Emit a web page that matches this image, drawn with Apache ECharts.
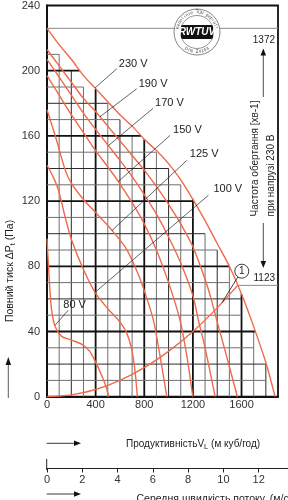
<!DOCTYPE html>
<html><head><meta charset="utf-8">
<script src="https://cdn.jsdelivr.net/npm/echarts@6/dist/echarts.min.js"></script>
<style>html,body{margin:0;padding:0;background:#fff}#c{width:288px;height:500px}</style>
</head><body><div id="c"></div>
<script>
// ---- data ----
const xTicks = [0, 400, 800, 1200, 1600];
const yTicks = [0, 40, 80, 120, 160, 200, 240];
const velTicks = [0, 2, 4, 6, 8, 10, 12];
const curveNames = ['230 V', '190 V', '170 V', '150 V', '125 V', '100 V', '80 V'];
const c230x = [0,100,200,300,400,500,600,700,800,900,1000,1100,1200,1300,1400,1500,1600,1700,1800,1876];
const c230y = [226,216,207,197,189,181,173,166,158,151,143,133,121,108,94,80,63,43,21,0];
const c190x = [0,100,200,300,400,500,600,700,800,900,1000,1100,1200,1300,1350,1400,1480,1566];
const c190y = [213,203,193,183,175,166,157,148,139,129,118,106,92,72,60,46,24,0];
const c170x = [0,100,200,300,400,505,600,700,800,900,1000,1100,1200,1245,1300,1383];
const c170y = [207,196,185,174,164,154,145,135,124,112,98,82,62,47,30,0];
const c150x = [0,100,200,300,400,500,587,700,800,900,1000,1094,1150,1199];
const c150y = [197,185,173,162,151,141,132,119,106,90,70,47,25,0];
const c125x = [0,80,150,200,300,400,535,650,740,800,875,930,985];
const c125y = [176,157,139,131,121,113,102,91,77,65,47,25,0];
const c100x = [0,50,93,150,203,300,395,500,587,650,697,725,743];
const c100y = [142,135,127,110,96,78,64,54,47,40,29,15,0];
const c80x = [0,5,12,20,35,55,80,120,190,290,350,395,450,490,505];
const c80y = [97,90,80,70,55,46,41,37,35,32,28,22,13,5,0];
const sysX = [0,200,400,600,800,1000,1200,1400,1568];
const sysY = [0,1.1,4.4,10,17.8,27.8,40,54.5,68.3];
const rpmTop = 1372, rpmOp = 1123;

const curvesX = [c230x, c190x, c170x, c150x, c125x, c100x, c80x];
const curvesY = [c230y, c190y, c170y, c150y, c125y, c100y, c80y];

// ---- helpers ----
function interp(xs, ys, x) {
  if (x <= xs[0]) return ys[0];
  for (let i = 1; i < xs.length; i++) {
    if (x <= xs[i]) { const t = (x - xs[i-1]) / (xs[i] - xs[i-1]); return ys[i-1] + t * (ys[i] - ys[i-1]); }
  }
  return ys[ys.length - 1];
}
function xAtY(xs, ys, y) {
  if (y >= ys[0]) return xs[0];
  for (let i = 1; i < ys.length; i++) {
    if (y >= ys[i]) { const t = (ys[i-1] - y) / (ys[i-1] - ys[i]); return xs[i-1] + t * (xs[i] - xs[i-1]); }
  }
  return xs[xs.length - 1];
}
const XMAX = 1900;
const gridSegs = [];
for (let X = 100; X <= 1800; X += 100) {
  const o = interp(c230x, c230y, X);
  const thick = X % 400 === 0;
  const top = thick ? o : Math.floor(o / 10) * 10;
  if (top > 0) gridSegs.push([X, 0, X, top, thick ? 2 : (X % 200 === 0 ? 1 : 0)]);
}
for (let Y = 10; Y <= 220; Y += 10) {
  const xr = xAtY(c230x, c230y, Y);
  const thick = Y % 40 === 0;
  const right = thick ? xr : Math.floor(xr / 100) * 100;
  if (right > 0) gridSegs.push([0, Y, right, Y, thick ? 2 : (Y % 20 === 0 ? 1 : 0)]);
}

const FONT = '"Liberation Sans", Arial, sans-serif';
const RED = '#f0694a';
const chart = echarts.init(document.getElementById('c'), null, {renderer: 'canvas'});

const series = [{
  type: 'custom', xAxisIndex: 0, yAxisIndex: 0, silent: true, z: 1,
  dimensions: ['x1','y1','x2','y2','k'],
  encode: {x: [0, 2], y: [1, 3]},
  data: gridSegs,
  renderItem: function (params, api) {
    const p1 = api.coord([api.value(0), api.value(1)]);
    const p2 = api.coord([api.value(2), api.value(3)]);
    const k = api.value(4);
    return {type: 'line', shape: {x1: p1[0], y1: p1[1], x2: p2[0], y2: p2[1]},
      style: {stroke: k === 2 ? '#111' : (k === 1 ? '#2a2a2a' : '#707070'), lineWidth: k === 2 ? 1.8 : 1}};
  }
}];
curvesX.forEach((xs, i) => {
  series.push({type: 'line', name: curveNames[i], xAxisIndex: 0, yAxisIndex: 0, z: 3, silent: true,
    showSymbol: false, smooth: 0.3, lineStyle: {color: RED, width: 1.4},
    data: xs.map((x, j) => [x, curvesY[i][j]])});
});
series.push({type: 'line', name: 'system', xAxisIndex: 0, yAxisIndex: 0, z: 3, silent: true,
  showSymbol: false, smooth: 0.3, lineStyle: {color: RED, width: 1.4},
  data: sysX.map((x, j) => [x, sysY[j]])});
series.push({type: 'line', xAxisIndex: 1, yAxisIndex: 1, data: [], silent: true});

chart.setOption({
  animation: false,
  textStyle: {fontFamily: FONT},
  grid: [
    {left: 47, right: 10, top: 4.5, bottom: 103.3, show: true, borderColor: '#111', borderWidth: 1.8, backgroundColor: 'transparent'},
    {left: 47, right: 0, top: 467.5, height: 1}
  ],
  xAxis: [
    {type: 'value', gridIndex: 0, min: 0, max: XMAX,
      axisLine: {show: true, lineStyle: {color: '#111', width: 2}},
      axisTick: {show: false}, splitLine: {show: false},
      axisLabel: {customValues: xTicks, formatter: v => String(v), color: '#333', fontSize: 11, margin: 3, fontFamily: FONT}},
    {type: 'value', gridIndex: 1, min: 0, max: 13.66, position: 'bottom',
      axisLine: {show: true, onZero: false, lineStyle: {color: '#222', width: 1}},
      axisTick: {show: true, customValues: velTicks, length: 4, lineStyle: {color: '#222'}},
      splitLine: {show: false},
      axisLabel: {customValues: velTicks, formatter: v => String(v), color: '#333', fontSize: 11, margin: 6, fontFamily: FONT}}
  ],
  yAxis: [
    {type: 'value', gridIndex: 0, min: 0, max: 240, interval: 40,
      axisLine: {show: true, lineStyle: {color: '#111', width: 2}},
      axisTick: {show: false}, splitLine: {show: false},
      axisLabel: {customValues: yTicks, formatter: v => String(v), color: '#333', fontSize: 11, margin: 7, fontFamily: FONT}},
    {type: 'value', gridIndex: 1, min: 0, max: 1, show: false}
  ],
  series: series
});

// ---- annotations ----
const P = (x, y) => chart.convertToPixel({gridIndex: 0}, [x, y]);
const g = [];
function line(x1, y1, x2, y2, stroke, w) { g.push({type: 'line', silent: true, z: 10, shape: {x1, y1, x2, y2}, style: {stroke, lineWidth: w}}); }
function text(x, y, t, opt) { g.push(Object.assign({type: 'text', silent: true, z: 11, x, y, style: Object.assign({text: t, fill: '#222', font: '11px ' + FONT, align: 'left', verticalAlign: 'middle'}, opt && opt.style || {})}, opt && opt.el || {})); }

const leaders = [
  [0, 395, [574, 201.2], 2, -5],
  [1, 436, [738, 188.9], 2, -5],
  [2, 505, [872, 176.9], 2, -5],
  [3, 587, [1012, 160.3], 3, -5],
  [4, 535, [1150, 145], 3, -6],
  [5, 395, [1328, 123.6], 5, -6],
  [6, 66, [175, 53.1], -5, -5]
];
leaders.forEach(l => {
  const i = l[0];
  const a = P(l[1], interp(curvesX[i], curvesY[i], l[1]));
  const b = P(l[2][0], l[2][1]);
  line(a[0], a[1], b[0], b[1], '#222', 0.7);
  text(b[0] + l[3], b[1] + l[4], curveNames[i]);
});

const yTop = P(0, c230y[0])[1];
const pL = P(0, 0), pR = P(XMAX, 0);
line(pL[0], yTop, pR[0], yTop, '#8a8a8a', 1);
const op = P(sysX[sysX.length - 1], sysY[sysY.length - 1]);
line(op[0], op[1], pR[0], op[1], '#8a8a8a', 1);

const mk = P(1602, 77);
const ms = P(1440, interp(sysX, sysY, 1440));
line(ms[0], ms[1], mk[0] - 4, mk[1] + 6, '#111', 0.8);
g.push({type: 'circle', z: 12, silent: true, shape: {cx: mk[0], cy: mk[1], r: 7}, style: {fill: '#fff', stroke: '#222', lineWidth: 0.9}});
text(mk[0], mk[1] + 0.5, '1', {style: {align: 'center', font: '10px ' + FONT}, el: {z: 13}});

text(275, 40, String(rpmTop), {style: {align: 'right', font: '10px ' + FONT}});
line(263.3, 97, 263.3, 54, '#222', 0.8);
g.push({type: 'polygon', z: 11, silent: true, shape: {points: [[263.3, 48.5], [260.5, 55.5], [266.1, 55.5]]}, style: {fill: '#111'}});
text(275, 278, String(rpmOp), {style: {align: 'right', font: '10px ' + FONT}});
line(263.3, 223, 263.3, 262, '#222', 0.8);
g.push({type: 'polygon', z: 11, silent: true, shape: {points: [[263.3, 268], [260.5, 261], [266.1, 261]]}, style: {fill: '#111'}});
text(255, 216.5, 'Частота обертання [хв-1]', {style: {font: '10px ' + FONT}, el: {rotation: Math.PI / 2}});
text(271, 216.5, 'при напрузі 230 В', {style: {font: '10px ' + FONT}, el: {rotation: Math.PI / 2}});

g.push({type: 'text', z: 11, silent: true, x: 10, y: 271, rotation: Math.PI / 2,
  style: {text: 'Повний тиск ΔP{s|t} (Па)', font: '10.5px ' + FONT, fill: '#222', align: 'center', verticalAlign: 'middle',
    rich: {s: {font: '7.5px ' + FONT, fill: '#222', padding: [5, 0, 0, 0]}}}});
line(8.3, 398, 8.3, 365, '#333', 0.8);
g.push({type: 'polygon', z: 11, silent: true, shape: {points: [[8.3, 357], [5.6, 365], [11, 365]]}, style: {fill: '#111'}});

line(46.7, 443.3, 76, 443.3, '#222', 0.9);
g.push({type: 'polygon', z: 11, silent: true, shape: {points: [[81, 443.3], [74, 440.5], [74, 446.1]]}, style: {fill: '#111'}});
g.push({type: 'text', z: 11, silent: true, x: 126, y: 444,
  style: {text: 'ПродуктивністьV{s|L} (м куб/год)', font: '10px ' + FONT, fill: '#222', align: 'left', verticalAlign: 'middle',
    rich: {s: {font: '7.5px ' + FONT, fill: '#222', padding: [6, 0, 0, 0]}}}});
line(46.7, 459, 46.7, 470, '#222', 1);
line(46.7, 494, 76, 494, '#222', 0.9);
g.push({type: 'polygon', z: 11, silent: true, shape: {points: [[81, 494], [74, 491.2], [74, 496.8]]}, style: {fill: '#111'}});
text(136.5, 499, 'Середня швидкість потоку, (м/с)', {style: {font: '10.5px ' + FONT}});

const LX = 197, LY = 32;
g.push({type: 'circle', z: 11, silent: true, shape: {cx: LX, cy: LY, r: 23}, style: {fill: '#fff', stroke: '#666', lineWidth: 0.8}});
g.push({type: 'circle', z: 11, silent: true, shape: {cx: LX, cy: LY, r: 16.5}, style: {fill: 'none', stroke: '#666', lineWidth: 0.7}});
g.push({type: 'rect', z: 12, silent: true, shape: {x: LX - 16, y: LY - 7, width: 32, height: 14, r: 2}, style: {fill: '#111'}});
text(LX, LY + 0.5, 'RWTUV', {style: {align: 'center', font: 'italic bold 10px ' + FONT, fill: '#fff'}, el: {z: 13}});
function arcText(str, r, a0, a1, top) {
  const n = str.length;
  for (let i = 0; i < n; i++) {
    const a = a0 + (a1 - a0) * (n === 1 ? 0.5 : i / (n - 1));
    const x = LX + r * Math.cos(a), y = LY - r * Math.sin(a);
    const rot = top ? a - Math.PI / 2 : a + Math.PI / 2;
    g.push({type: 'text', z: 12, silent: true, x, y, rotation: rot,
      style: {text: str[i], font: '4.5px ' + FONT, fill: '#444', align: 'center', verticalAlign: 'middle'}});
  }
}
arcText('Kennlinie TÜV geprüft', 19.8, Math.PI * 0.93, Math.PI * 0.07, true);
arcText('DIN 24163', 19.8, -Math.PI * 0.68, -Math.PI * 0.32, false);

chart.setOption({graphic: {elements: g}});
</script></body></html>
